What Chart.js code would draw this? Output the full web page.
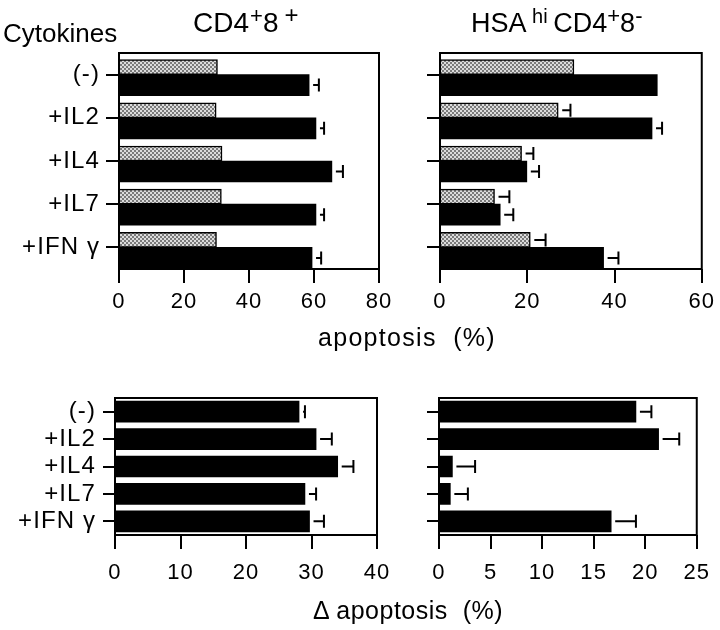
<!DOCTYPE html>
<html>
<head>
<meta charset="utf-8">
<script src="https://cdn.jsdelivr.net/npm/chart.js@4.4.0/dist/chart.umd.min.js"></script>
<style>
  body { margin: 0; background: #fff; }
  #wrap { position: relative; width: 720px; height: 630px; overflow: hidden;
          font-family: "Liberation Sans", Arial, sans-serif; color: #000; }
  #wrap canvas { position: absolute; left: 0; top: 0; }
  .lbl { position: absolute; white-space: nowrap; line-height: 1; }
  .sup { font-size: 22px; position: relative; top: -9px; }
</style>
</head>
<body>
<div id="wrap">
  <canvas id="tl" width="720" height="630"></canvas>
  <canvas id="tr" width="720" height="630"></canvas>
  <canvas id="bl" width="720" height="630"></canvas>
  <canvas id="br" width="720" height="630"></canvas>

  <div class="lbl" style="left:3px; top:20px; font-size:26px;">Cytokines</div>
  <div class="lbl" style="left:193px; top:9px; font-size:28px;">CD4<span class="sup" style="margin-left:1px">+</span>8<span class="sup" style="margin-left:6px;font-size:24px">+</span></div>
  <div class="lbl" style="left:471px; top:10px; font-size:27px;">HSA<span class="sup" style="font-size:20px"> hi </span>CD4<span class="sup">+</span>8<span class="sup">-</span></div>
  <div class="lbl" style="left:318px; top:325px; font-size:25px; letter-spacing:1.3px;">apoptosis&nbsp; (%)</div>
  <div class="lbl" style="left:313px; top:598px; font-size:25px; letter-spacing:0.5px;">&Delta; apoptosis&nbsp; (%)</div>
</div>

<script>
// categories
const cytokines = ["(-)", "+IL2", "+IL4", "+IL7", "+IFN γ"];

// CD4+8+ : apoptosis (%)
const dpGray = [30.3, 29.9, 31.7, 31.5, 30.0];
const dpBlack = [58.5, 60.6, 65.5, 60.6, 59.4];
const dpBlackErr = [3.0, 2.5, 3.4, 2.5, 2.8];

// HSAhi CD4+8- : apoptosis (%)
const spGray = [30.7, 27.1, 18.7, 12.5, 20.7];
const spGrayErr = [0, 2.8, 2.7, 3.4, 3.5];
const spBlack = [49.8, 48.6, 19.9, 13.8, 37.5];
const spBlackErr = [0, 2.3, 2.8, 3.0, 3.4];

// delta apoptosis (%)
const dpDelta = [28.1, 30.7, 34.0, 29.0, 29.7];
const dpDeltaErr = [0.9, 2.4, 2.4, 1.7, 2.2];
const spDelta = [19.1, 21.3, 1.3, 1.1, 16.7];
const spDeltaErr = [1.5, 2.0, 2.2, 1.7, 2.4];

// tick labels
const ticksTL = [0, 20, 40, 60, 80];
const ticksTR = [0, 20, 40, 60];
const ticksBL = [0, 10, 20, 30, 40];
const ticksBR = [0, 5, 10, 15, 20, 25];

const FONT = "'Liberation Sans', Arial, sans-serif";

// stippled grey fill like the printed figure
function stipple() {
  const c = document.createElement("canvas");
  c.width = 4; c.height = 4;
  const g = c.getContext("2d");
  g.fillStyle = "#dcdcdc";
  g.fillRect(0, 0, 4, 4);
  g.fillStyle = "#7a7a7a";
  g.fillRect(0, 0, 2, 2);
  g.fillRect(2, 2, 2, 2);
  return g.createPattern(c, "repeat");
}
const grayFill = stipple();

// loose tracking of the old typeset labels
const spacing = {
  id: "spacing",
  beforeDraw(chart) { chart.ctx.letterSpacing = "1.1px"; }
};

// box round the plot area
const frame = {
  id: "frame",
  afterDatasetsDraw(chart) {
    const a = chart.chartArea, ctx = chart.ctx;
    ctx.save();
    ctx.strokeStyle = "#000";
    ctx.lineWidth = 2;
    ctx.strokeRect(a.left, a.top, a.right - a.left, a.bottom - a.top);
    ctx.restore();
  }
};

// one-sided error bars (line + cap) to the right of each bar
const errorBars = {
  id: "errorBars",
  afterDatasetsDraw(chart) {
    const ctx = chart.ctx, xs = chart.scales.x;
    chart.data.datasets.forEach((ds, i) => {
      if (!ds.errors) return;
      chart.getDatasetMeta(i).data.forEach((bar, j) => {
        const e = ds.errors[j];
        if (!e) return;
        const xEnd = xs.getPixelForValue(ds.data[j] + e);
        ctx.save();
        ctx.strokeStyle = "#000";
        ctx.lineWidth = 2;
        ctx.beginPath();
        ctx.moveTo(bar.x + 4, bar.y);
        ctx.lineTo(xEnd, bar.y);
        ctx.moveTo(xEnd, bar.y - 6.5);
        ctx.lineTo(xEnd, bar.y + 6.5);
        ctx.stroke();
        ctx.restore();
      });
    });
  }
};

function panel(id, datasets, area, xTicks, showNames, yTickLen, yPad, xPad) {
  const yW = 100, xH = 60;
  new Chart(document.getElementById(id), {
    type: "bar",
    data: { labels: cytokines, datasets },
    options: {
      indexAxis: "y",
      responsive: false,
      animation: false,
      layout: {
        padding: {
          left: area.left - yW,
          right: 720 - area.right,
          top: area.top,
          bottom: 630 - area.bottom - xH
        }
      },
      plugins: { legend: { display: false }, tooltip: { enabled: false } },
      scales: {
        y: {
          type: "category",
          offset: true,
          afterFit: s => { s.width = yW; },
          border: { display: false },
          grid: { offset: false, drawOnChartArea: false, drawTicks: true,
                  tickLength: yTickLen, lineWidth: 2, color: "#000" },
          ticks: {
            color: "#000",
            padding: yPad,
            autoSkip: false,
            font: { family: FONT, size: 24 },
            callback: function (v) { return showNames ? this.getLabelForValue(v) : ""; }
          }
        },
        x: {
          type: "linear",
          min: xTicks[0],
          max: xTicks[xTicks.length - 1],
          afterFit: s => { s.height = xH; },
          afterBuildTicks: s => { s.ticks = xTicks.map(v => ({ value: v })); },
          border: { display: false },
          grid: { drawOnChartArea: false, drawTicks: true, tickLength: 14,
                  lineWidth: 2, color: "#000" },
          ticks: { color: "#000", padding: xPad, maxRotation: 0, autoSkip: false,
                   font: { family: FONT, size: 22 } }
        }
      }
    },
    plugins: [spacing, frame, errorBars]
  });
}

const grayBar = (data, errors) => ({
  data, errors,
  backgroundColor: grayFill, borderColor: "#000", borderWidth: 1.5,
  barThickness: 15
});
const blackBar = (data, errors, t) => ({
  data, errors,
  backgroundColor: "#000", borderWidth: 0,
  barThickness: t
});

panel("tl", [grayBar(dpGray, null), blackBar(dpBlack, dpBlackErr, 21)],
      { left: 119, right: 379, top: 53, bottom: 269 }, ticksTL, true, 13, 6, 6);
panel("tr", [grayBar(spGray, spGrayErr), blackBar(spBlack, spBlackErr, 21)],
      { left: 440, right: 704, top: 53, bottom: 269 }, ticksTR, false, 13, 6, 6);
panel("bl", [blackBar(dpDelta, dpDeltaErr, 21)],
      { left: 115, right: 377, top: 398, bottom: 535 }, ticksBL, true, 12, 7, 11);
panel("br", [blackBar(spDelta, spDeltaErr, 21)],
      { left: 439, right: 699, top: 398, bottom: 535 }, ticksBR, false, 12, 7, 11);
</script>
</body>
</html>
